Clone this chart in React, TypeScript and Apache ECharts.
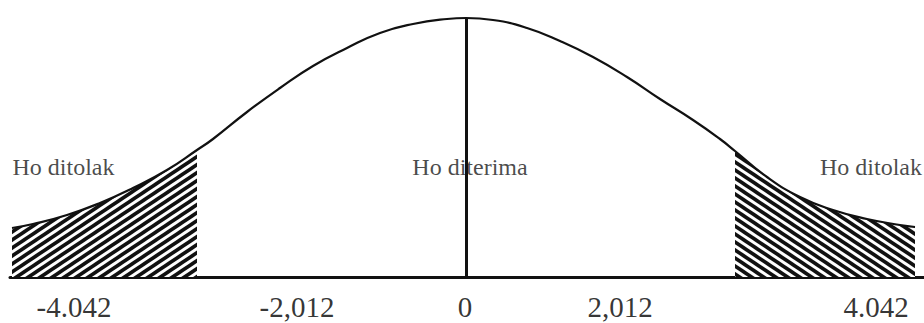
import React, { useEffect, useRef } from 'react';
import * as echarts from 'echarts';

// Curve (x: horizontal position, y: height above baseline)
const CURVE_X = [-4.54, -4.33, -3.99, -3.66, -3.33, -2.99, -2.69, -2.53, -2.19, -1.86, -1.53, -1.19, -0.86, -0.53, -0.19, 0, 0.27, 0.61, 0.94, 1.27, 1.61, 1.94, 2.27, 2.54, 2.69, 3.01, 3.34, 3.67, 4.01, 4.34, 4.49];
const CURVE_Y = [0.49, 0.53, 0.62, 0.74, 0.89, 1.07, 1.27, 1.38, 1.65, 1.89, 2.11, 2.29, 2.44, 2.53, 2.58, 2.59, 2.57, 2.49, 2.36, 2.2, 2.0, 1.78, 1.57, 1.38, 1.26, 1.0, 0.8, 0.67, 0.58, 0.52, 0.5];
const LEFT_CUT = -2.69;
const RIGHT_CUT = 2.69;

const TICK_LABELS = ['-4.042', '-2,012', '0', '2,012', '4.042'];
const TICK_POS = [-3.92, -1.69, -0.01, 1.54, 4.1];

const REGION_LABELS = ['Ho ditolak', 'Ho diterima', 'Ho ditolak'];
const REGION_POS = [-4.025, 0.04, 4.05];
const REGION_LEVEL = 1.1;

function hatch(dir: 'up' | 'down') {
  const w = 12, h = 8, lw = 3.6;
  const lines = [-1, 0, 1]
    .map((k) =>
      dir === 'up'
        ? `<line x1="${-w}" y1="${2 * h + k * h}" x2="${2 * w}" y2="${-h + k * h}" stroke="#111" stroke-width="${lw}"/>`
        : `<line x1="${-w}" y1="${-h + k * h}" x2="${2 * w}" y2="${2 * h + k * h}" stroke="#111" stroke-width="${lw}"/>`
    )
    .join('');
  const svg = `<svg xmlns="http://www.w3.org/2000/svg" width="${w}" height="${h}"><rect width="${w}" height="${h}" fill="#fff"/>${lines}</svg>`;
  return {
    image: 'data:image/svg+xml;charset=utf-8,' + encodeURIComponent(svg),
    repeat: 'repeat',
    imageWidth: w,
    imageHeight: h,
  };
}

export default function App() {
  const ref = useRef<HTMLDivElement>(null);
  useEffect(() => {
    if (!ref.current) return;
    const chart = echarts.init(ref.current, null, { renderer: 'svg' });
    const curve = CURVE_X.map((x, i) => [x, CURVE_Y[i]]);
    const leftTail = curve.filter((p) => p[0] <= LEFT_CUT);
    const rightTail = curve.filter((p) => p[0] >= RIGHT_CUT);
    const peak = CURVE_Y[CURVE_X.indexOf(0)];
    const font = '"Liberation Serif", "Times New Roman", serif';

    chart.setOption({
      animation: false,
      grid: { left: 10, right: 0, top: 17, bottom: 46 },
      xAxis: {
        type: 'value',
        min: -4.56,
        max: 4.58,
        axisLine: { show: true, lineStyle: { color: '#111', width: 3 } },
        axisTick: { show: false },
        axisLabel: { show: false },
        splitLine: { show: false },
      },
      yAxis: {
        type: 'value',
        min: 0,
        max: 2.6,
        show: false,
        splitLine: { show: false },
      },
      series: [
        {
          type: 'line',
          data: leftTail,
          smooth: 0.5,
          symbol: 'none',
          lineStyle: { width: 0 },
          areaStyle: { color: hatch('up'), opacity: 1 },
          silent: true,
          z: 1,
        },
        {
          type: 'line',
          data: rightTail,
          smooth: 0.5,
          symbol: 'none',
          lineStyle: { width: 0 },
          areaStyle: { color: hatch('down'), opacity: 1 },
          silent: true,
          z: 1,
        },
        {
          type: 'line',
          data: curve,
          smooth: 0.5,
          symbol: 'none',
          lineStyle: { color: '#111', width: 2.2 },
          silent: true,
          z: 3,
          markLine: {
            silent: true,
            symbol: ['none', 'none'],
            label: { show: false },
            lineStyle: { color: '#111', width: 3, type: 'solid' },
            data: [[{ coord: [0, 0] }, { coord: [0, peak] }]],
          },
        },
        {
          type: 'scatter',
          symbolSize: 0,
          silent: true,
          z: 5,
          data: TICK_LABELS.map((t, i) => ({ name: t, value: [TICK_POS[i], 0] })),
          label: {
            show: true,
            position: 'inside',
            offset: [0, 30],
            formatter: (p: any) => p.name,
            fontFamily: font,
            fontSize: 29,
            color: '#000',
          },
        },
        {
          type: 'scatter',
          symbolSize: 0,
          silent: true,
          z: 5,
          data: REGION_LABELS.map((t, i) => ({ name: t, value: [REGION_POS[i], REGION_LEVEL] })),
          label: {
            show: true,
            position: 'inside',
            formatter: (p: any) => p.name,
            fontFamily: font,
            fontSize: 24,
            color: '#1a1a1a',
          },
        },
      ],
    });
    return () => chart.dispose();
  }, []);
  return (
    <div
      ref={ref}
      style={{ position: 'fixed', left: 0, top: 0, width: 924, height: 323, background: '#fff' }}
    />
  );
}
